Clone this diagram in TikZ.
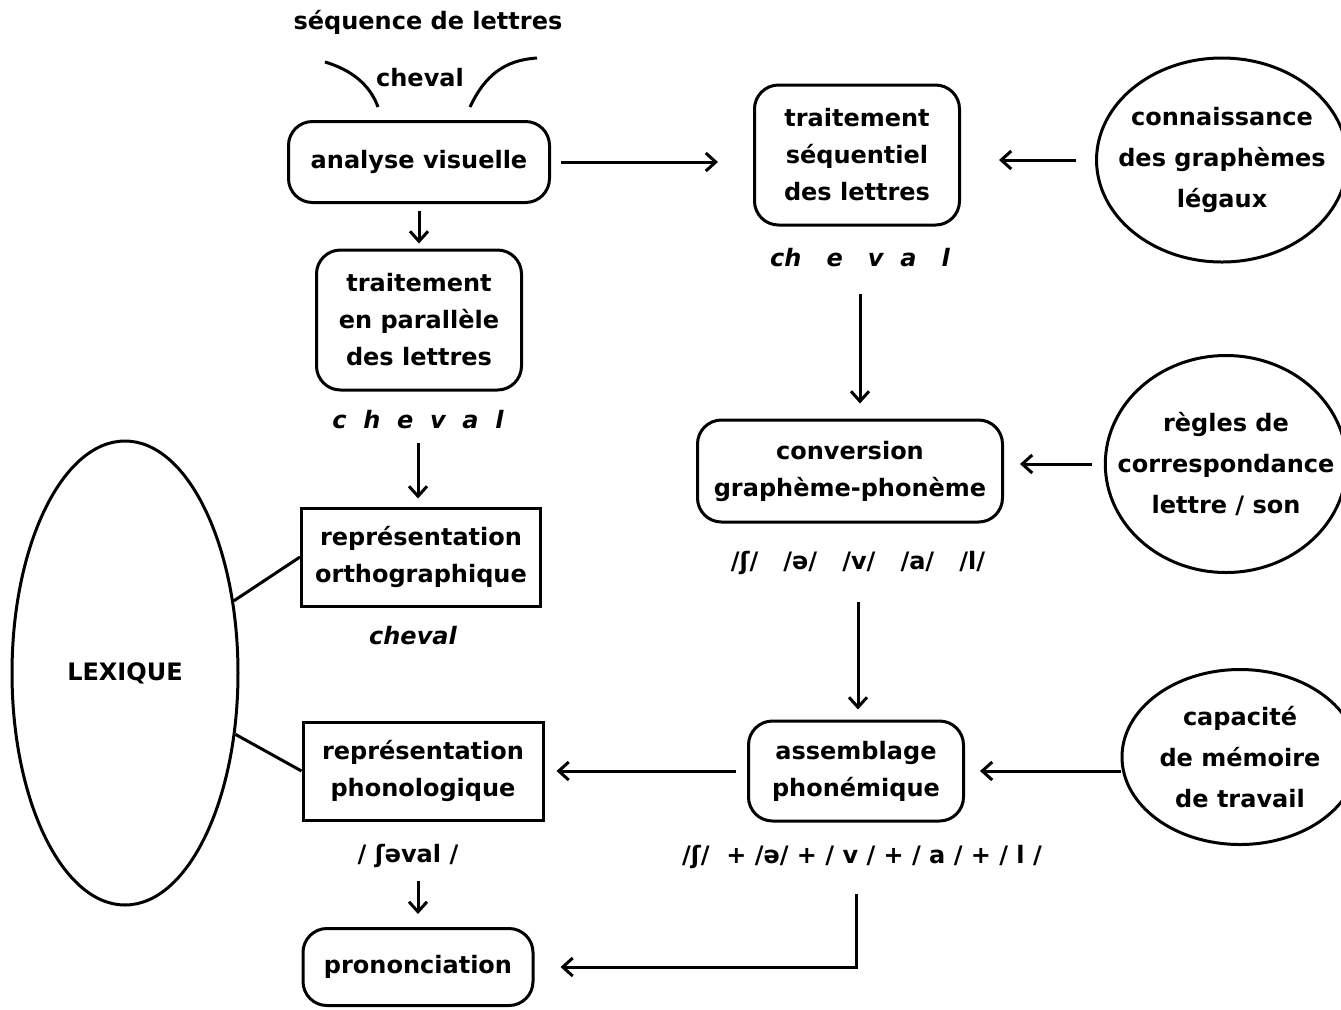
\documentclass[tikz,border=0pt]{standalone}
\usepackage{fontspec}
\setmainfont{DejaVu Sans}
\usetikzlibrary{arrows.meta,positioning,shapes.geometric}

\begin{document}
\begin{tikzpicture}[x=0.5pt,y=-0.5pt,
    >={Straight Barb[length=5pt,width=9pt]},
    txt/.style={font=\bfseries\fontsize{12}{18.5}\selectfont, align=center},
    rbox/.style={txt, draw, line width=1.5pt, rounded corners=12pt, inner sep=0pt},
    sbox/.style={txt, draw, line width=1.5pt, inner sep=0pt},
    oval/.style={txt, draw, ellipse, line width=1.5pt, inner sep=0pt, font=\bfseries\fontsize{12}{20.5}\selectfont},
    ital/.style={font=\bfseries\itshape\fontsize{12}{14}\selectfont},
    arr/.style={->, line width=1.5pt}]
    \useasboundingbox (0,0) rectangle (1341,1009);

    % colonne gauche
    \node[txt] (seq) at (428,22) {séquence de lettres};
    \node[txt] (chv0) at (420,78) {cheval};
    \draw[line width=1.5pt] (325,62) .. controls (352,70) and (370,85) .. (378,107);
    \draw[line width=1.5pt] (470,107) .. controls (485,75) and (505,60) .. (537,58);
    \node[rbox, minimum width=130.5pt, minimum height=40.5pt] (av) at (419,162) {analyse visuelle};
    \node[rbox, minimum width=102.5pt, minimum height=70pt] (tp) at (419,320) {traitement\\en parallèle\\des lettres};
    \node[ital] (chv1) at (418,420) {c\ \ h\ \ e\ \ v\ \ a\ \ l};
    \node[sbox, minimum width=119.5pt, minimum height=49pt] (rorth) at (421,557) {représentation\\orthographique};
    \node[ital] (chv3) at (413,636) {cheval};
    \node[sbox, minimum width=120pt, minimum height=49pt] (rphon) at (423,771) {représentation\\phonologique};
    \node[txt] (ph3) at (408,856) {/ ʃəval /};
    \node[rbox, minimum width=115pt, minimum height=38.5pt] (pron) at (418,967) {prononciation};
    \node[oval, minimum width=113pt, minimum height=232pt] (lex) at (125,673) {LEXIQUE};

    % colonne droite
    \node[rbox, minimum width=102.5pt, minimum height=70pt] (tsl) at (857,155) {traitement\\séquentiel\\des lettres};
    \node[ital] (chv2) at (860,258) {ch\ \ \ e\ \ \ v\ \ a\ \ \ l};
    \node[rbox, minimum width=152.5pt, minimum height=51pt] (cgp) at (850,471) {conversion\\graphème-phonème};
    \node[txt] (ph1) at (858,563) {/ʃ/\ \ \ /ə/\ \ \ /v/\ \ \ /a/\ \ \ /l/};
    \node[rbox, minimum width=107.5pt, minimum height=50pt] (asm) at (856,771) {assemblage\\phonémique};
    \node[txt] (ph2) at (862,857) {/ʃ/ \ + /ə/ + / v / + / a / + / l /};

    % connaissances
    \node[oval, inner xsep=-7.5pt, minimum width=125pt, minimum height=102pt] (gra) at (1222,160) {connaissance\\des graphèmes\\légaux};
    \node[oval, inner xsep=-11.5pt, minimum width=120pt, minimum height=108.5pt] (reg) at (1226,464) {règles de\\correspondance\\lettre / son};
    \node[oval, minimum width=118pt, minimum height=87.5pt] (mem) at (1240,757) {capacité\\de mémoire\\de travail};

    % fleches
    \draw[arr, shorten <=5pt, shorten >=17.5pt] (av.east) -- (av.east -| tsl.west);
    \draw[arr, shorten <=9.5pt, shorten >=19pt] (gra.west) -- (gra.west -| tsl.east);
    \draw[arr, shorten <=10pt, shorten >=7.5pt] (chv2.south) -- (chv2.south |- cgp.north);
    \draw[arr, shorten <=6pt, shorten >=8pt] (reg.west) -- (reg.west -| cgp.east);
    \draw[arr, shorten <=10pt, shorten >=5pt] (ph1.south) -- (ph1.south |- asm.north);
    \draw[arr, shorten <=0pt, shorten >=7.5pt] (asm.east -| mem.west) -- (asm.east);
    \draw[arr, shorten <=5.5pt, shorten >=6pt] (asm.west) -- (rphon.east);
    \draw[arr, shorten <=9pt, shorten >=13pt] (ph2.south -| asm.south) |- (pron.east);
    \draw[arr, shorten <=3.5pt, shorten >=2.5pt] (av.south) -- (tp.north);
    \draw[arr, shorten <=3.5pt, shorten >=4pt] (chv1.south) -- (chv1.south |- rorth.north);
    \draw[arr, shorten <=3pt, shorten >=6.5pt] (ph3.south -| pron.north) -- (pron.north);
    \draw[line width=1.5pt] (lex) -- (rorth.west);
    \draw[line width=1.5pt] (lex) -- (rphon.west);
\end{tikzpicture}
\end{document}
